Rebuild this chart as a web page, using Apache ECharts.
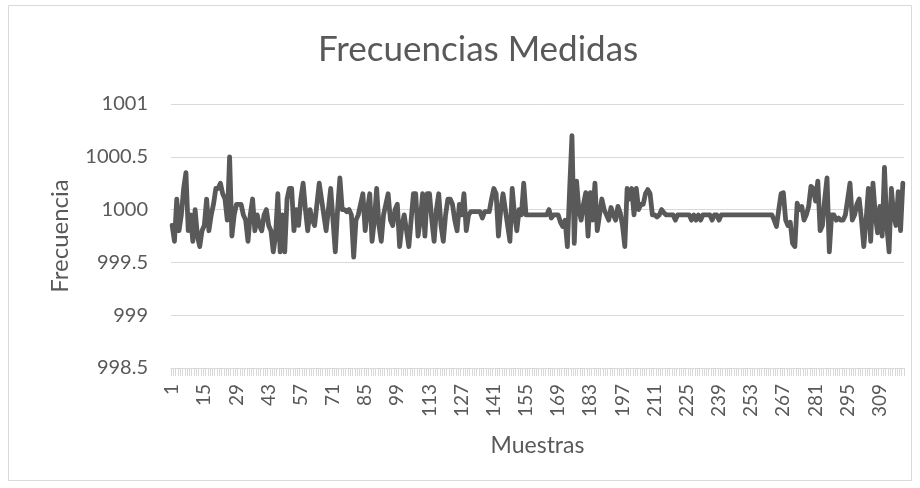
<!DOCTYPE html>
<html>
<head>
<meta charset="utf-8">
<title>Frecuencias Medidas</title>
<script src="https://cdn.jsdelivr.net/npm/echarts@6/dist/echarts.min.js"></script>
<style>
  html, body { margin: 0; padding: 0; background: #ffffff; }
  #chart { width: 920px; height: 488px; }
</style>
</head>
<body>
<div id="chart"></div>
<script>
// Measured frequency for each sample (samples numbered from 1)
const frecuencias = [
  999.85, 999.7, 1000.1, 999.8, 999.95, 1000.2, 1000.35, 999.8, 999.95, 999.7,
  1000.0, 999.75, 999.65, 999.8, 999.85, 1000.1, 999.8, 999.95, 1000.05, 1000.2,
  1000.2, 1000.25, 1000.15, 1000.1, 999.9, 1000.5, 999.75, 999.95, 1000.05, 1000.05,
  1000.05, 999.95, 999.9, 999.7, 999.95, 1000.1, 999.8, 999.95, 999.85, 999.8,
  999.95, 1000.0, 999.85, 999.8, 999.6, 999.75, 1000.15, 999.6, 999.95, 999.6,
  1000.1, 1000.2, 1000.2, 999.8, 1000.0, 999.85, 1000.1, 1000.25, 1000.0, 999.8,
  1000.0, 999.9, 999.85, 1000.05, 1000.25, 1000.1, 999.95, 999.8, 1000.0, 1000.2,
  999.9, 999.6, 1000.0, 1000.3, 1000.0, 1000.0, 999.98, 1000.0, 999.95, 999.55,
  999.9, 999.95, 1000.05, 1000.15, 999.8, 1000.0, 1000.15, 999.7, 999.9, 1000.2,
  999.85, 999.7, 999.95, 1000.05, 1000.15, 999.9, 999.85, 1000.0, 1000.05, 999.65,
  999.85, 999.95, 999.8, 999.65, 999.9, 1000.15, 1000.15, 999.75, 999.9, 1000.15,
  999.75, 1000.15, 1000.15, 999.9, 999.7, 1000.0, 1000.15, 999.85, 999.7, 999.95,
  1000.1, 1000.1, 1000.05, 999.9, 999.8, 1000.05, 999.95, 1000.15, 999.8, 999.95,
  999.98, 999.98, 999.98, 999.98, 999.98, 999.92, 999.98, 999.98, 999.98, 1000.1,
  1000.2, 1000.15, 999.75, 1000.0, 1000.15, 1000.0, 999.85, 999.7, 1000.2, 999.95,
  999.8, 1000.0, 999.95, 1000.25, 999.95, 999.95, 999.95, 999.95, 999.95, 999.95,
  999.95, 999.95, 999.95, 999.95, 1000.0, 999.92, 999.95, 999.95, 999.95, 999.88,
  999.84, 999.9, 999.65, 1000.2, 1000.7, 999.68, 1000.27, 1000.0, 999.9, 1000.05,
  1000.16, 999.75, 1000.16, 999.9, 1000.25, 999.8, 999.95, 1000.1, 1000.0, 999.95,
  999.9, 1000.02, 999.95, 999.9, 1000.03, 999.97, 999.85, 999.65, 1000.2, 1000.1,
  1000.2, 999.95, 1000.2, 1000.0, 1000.05, 1000.05, 1000.15, 1000.19, 1000.15, 999.95,
  999.95, 999.93, 999.95, 1000.0, 999.97, 999.95, 999.95, 999.95, 999.95, 999.9,
  999.95, 999.95, 999.95, 999.95, 999.95, 999.95, 999.9, 999.95, 999.9, 999.95,
  999.9, 999.95, 999.95, 999.95, 999.95, 999.9, 999.95, 999.95, 999.9, 999.95,
  999.95, 999.95, 999.95, 999.95, 999.95, 999.95, 999.95, 999.95, 999.95, 999.95,
  999.95, 999.95, 999.95, 999.95, 999.95, 999.95, 999.95, 999.95, 999.95, 999.95,
  999.95, 999.95, 999.9, 999.84, 1000.0, 1000.15, 1000.16, 999.9, 999.85, 999.88,
  999.68, 999.65, 1000.06, 1000.0, 1000.03, 999.9, 999.95, 1000.03, 1000.22, 1000.2,
  1000.08, 1000.27, 999.8, 999.85, 1000.1, 1000.3, 999.6, 999.95, 999.95, 999.9,
  999.92, 999.9, 999.9, 999.95, 1000.1, 1000.25, 999.9, 999.95, 1000.05, 1000.1,
  999.9, 999.65, 999.9, 1000.2, 999.7, 1000.25, 999.95, 999.78, 1000.03, 999.75,
  1000.4, 999.85, 999.6, 1000.2, 999.95, 999.85, 1000.17, 999.8, 1000.25
];

// Sample numbers shown on the category axis
const muestras = frecuencias.map((_, i) => String(i + 1));

// Value-axis range
const yMin = 998.5;
const yMax = 1001;
const yStep = 0.5;

const textColor = '#595959';
const gridColor = '#d9d9d9';
const fontFamily = 'Lato, "Liberation Sans", sans-serif';

const chart = echarts.init(document.getElementById('chart'), null, { renderer: 'canvas' });

chart.setOption({
  backgroundColor: '#ffffff',
  animation: false,
  title: {
    text: 'Frecuencias Medidas',
    left: 313,
    top: 27,
    textStyle: { color: textColor, fontSize: 35, fontWeight: 'normal', fontFamily: fontFamily }
  },
  graphic: [{
    type: 'rect',
    shape: { x: 8.5, y: 5.5, width: 903, height: 475 },
    style: { fill: 'none', stroke: gridColor, lineWidth: 1 },
    silent: true,
    z: -1
  }],
  grid: { left: 171, right: 16, top: 104, bottom: 120, containLabel: false },
  xAxis: {
    type: 'category',
    data: muestras,
    boundaryGap: true,
    name: 'Muestras',
    nameLocation: 'middle',
    nameGap: 66,
    nameTextStyle: { color: textColor, fontSize: 23, fontFamily: fontFamily },
    axisLine: { show: true, lineStyle: { color: gridColor, width: 1 } },
    axisTick: { show: true, interval: 0, length: 8, lineStyle: { color: gridColor, width: 1 } },
    axisLabel: {
      interval: 13,
      rotate: 90,
      color: textColor,
      fontSize: 19,
      fontFamily: fontFamily,
      margin: 16
    },
    splitLine: { show: false }
  },
  yAxis: {
    type: 'value',
    min: yMin,
    max: yMax,
    interval: yStep,
    name: 'Frecuencia',
    nameLocation: 'middle',
    nameRotate: 90,
    nameGap: 99,
    nameTextStyle: { color: textColor, fontSize: 24, fontFamily: fontFamily },
    axisLine: { show: false },
    axisTick: { show: false },
    axisLabel: {
      color: textColor,
      fontSize: 20,
      fontFamily: fontFamily,
      margin: 23,
      formatter: (v) => String(v)
    },
    splitLine: { show: true, lineStyle: { color: gridColor, width: 1 } }
  },
  series: [{
    type: 'line',
    data: frecuencias,
    showSymbol: false,
    symbol: 'none',
    lineStyle: { color: '#595959', width: 4.8, join: 'round', cap: 'round' },
    itemStyle: { color: '#595959' }
  }]
});
</script>
</body>
</html>
